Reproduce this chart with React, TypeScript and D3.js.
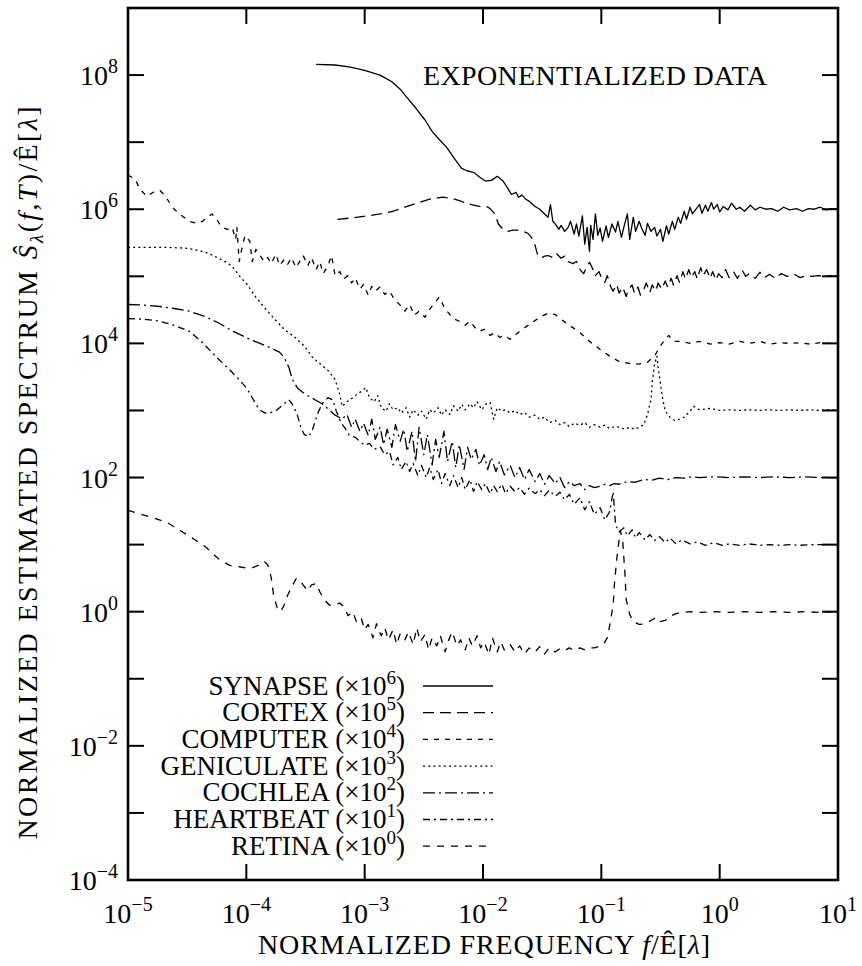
import React from "react";
import * as d3 from "d3";

// Values are stored as decade exponents: [log10 f, log10 S]
const SYNAPSE: [number, number][] = [[-3.41,8.16],[-3.25,8.15],[-3.12,8.12],[-3.00,8.07],[-2.87,8.00],[-2.77,7.90],[-2.70,7.79],[-2.64,7.66],[-2.56,7.49],[-2.49,7.33],[-2.43,7.16],[-2.37,7.04],[-2.31,6.93],[-2.24,6.75],[-2.18,6.61],[-2.13,6.57],[-2.08,6.55],[-2.03,6.48],[-1.98,6.42],[-1.93,6.43],[-1.88,6.49],[-1.83,6.42],[-1.79,6.31],[-1.76,6.22],[-1.72,6.25],[-1.70,6.18],[-1.67,6.21],[-1.64,6.15],[-1.61,6.12],[-1.56,6.04],[-1.52,6.00],[-1.48,5.93],[-1.45,5.88],[-1.43,6.07],[-1.41,5.82],[-1.38,5.76],[-1.36,5.70],[-1.34,5.76],[-1.31,5.67],[-1.28,5.73],[-1.26,5.82],[-1.23,5.63],[-1.21,5.78],[-1.19,5.60],[-1.16,5.90],[-1.14,5.48],[-1.12,5.73],[-1.10,5.37],[-1.09,5.76],[-1.07,5.55],[-1.05,5.93],[-1.03,5.61],[-1.01,5.72],[-0.99,5.52],[-0.96,5.75],[-0.94,5.58],[-0.91,5.78],[-0.88,5.66],[-0.86,5.82],[-0.83,5.58],[-0.81,5.73],[-0.78,5.93],[-0.76,5.55],[-0.73,5.88],[-0.71,5.67],[-0.68,5.82],[-0.66,5.72],[-0.63,5.61],[-0.61,5.79],[-0.58,5.67],[-0.55,5.73],[-0.53,5.60],[-0.50,5.70],[-0.48,5.52],[-0.45,5.75],[-0.43,5.63],[-0.40,5.82],[-0.38,5.70],[-0.35,5.88],[-0.33,5.79],[-0.30,5.97],[-0.28,5.85],[-0.25,6.03],[-0.23,5.93],[-0.20,6.00],[-0.17,6.07],[-0.15,5.94],[-0.12,6.06],[-0.10,5.97],[-0.07,6.10],[-0.05,6.00],[-0.02,6.07],[0.00,5.96],[0.03,6.04],[0.07,5.99],[0.10,6.09],[0.14,6.00],[0.17,6.03],[0.21,5.97],[0.26,6.06],[0.30,5.99],[0.34,6.03],[0.39,6.00],[0.44,6.01],[0.49,5.97],[0.54,6.03],[0.59,5.99],[0.65,6.01],[0.70,5.97],[0.75,6.01],[0.80,6.00],[0.85,6.03],[0.90,5.99],[0.95,6.01],[1.00,6.00]];

const CORTEX: [number, number][] = [[-3.23,5.85],[-3.11,5.87],[-2.98,5.90],[-2.87,5.93],[-2.76,5.97],[-2.66,6.03],[-2.56,6.09],[-2.45,6.15],[-2.34,6.18],[-2.26,6.16],[-2.20,6.13],[-2.14,6.09],[-2.08,6.06],[-2.02,6.04],[-1.97,6.04],[-1.94,6.01],[-1.90,5.93],[-1.87,5.78],[-1.83,5.70],[-1.79,5.67],[-1.75,5.69],[-1.71,5.69],[-1.66,5.67],[-1.62,5.64],[-1.59,5.58],[-1.56,5.46],[-1.54,5.33],[-1.51,5.27],[-1.48,5.30],[-1.45,5.31],[-1.41,5.28],[-1.38,5.34],[-1.34,5.27],[-1.31,5.30],[-1.28,5.22],[-1.24,5.19],[-1.21,5.22],[-1.18,5.10],[-1.15,5.04],[-1.12,5.15],[-1.10,5.21],[-1.07,5.10],[-1.05,5.01],[-1.02,5.07],[-1.00,4.98],[-0.97,4.91],[-0.95,5.01],[-0.92,4.84],[-0.90,4.78],[-0.87,4.88],[-0.85,4.75],[-0.82,4.84],[-0.79,4.70],[-0.77,4.81],[-0.74,4.87],[-0.72,4.75],[-0.69,4.84],[-0.67,4.72],[-0.64,4.81],[-0.62,4.90],[-0.59,4.76],[-0.57,4.87],[-0.54,4.78],[-0.52,4.90],[-0.49,4.81],[-0.46,4.93],[-0.44,4.84],[-0.41,4.97],[-0.39,4.87],[-0.36,5.01],[-0.34,4.91],[-0.31,5.07],[-0.29,4.96],[-0.26,5.10],[-0.24,4.98],[-0.21,5.07],[-0.19,4.96],[-0.16,5.13],[-0.14,5.01],[-0.11,5.10],[-0.08,4.97],[-0.06,5.07],[-0.03,4.94],[-0.01,5.04],[0.02,4.98],[0.05,5.10],[0.08,4.98],[0.12,5.06],[0.15,4.97],[0.19,5.09],[0.22,5.00],[0.25,5.04],[0.30,4.97],[0.34,5.06],[0.38,4.98],[0.42,5.03],[0.47,4.97],[0.52,5.04],[0.57,5.00],[0.63,5.03],[0.68,4.98],[0.73,5.01],[0.78,5.00],[0.83,5.01],[0.88,5.00],[0.93,5.01],[1.00,5.00]];

const COMPUTER: [number, number][] = [[-5.00,6.51],[-4.94,6.45],[-4.90,6.30],[-4.84,6.19],[-4.79,6.25],[-4.73,6.28],[-4.69,6.21],[-4.65,6.10],[-4.61,6.00],[-4.55,5.91],[-4.48,5.82],[-4.42,5.79],[-4.37,5.82],[-4.33,5.88],[-4.29,5.93],[-4.24,5.82],[-4.21,5.73],[-4.16,5.70],[-4.12,5.73],[-4.09,5.55],[-4.08,5.73],[-4.06,5.22],[-4.03,5.48],[-4.01,5.61],[-3.97,5.52],[-3.95,5.22],[-3.92,5.40],[-3.89,5.33],[-3.85,5.22],[-3.82,5.28],[-3.79,5.19],[-3.75,5.33],[-3.72,5.16],[-3.68,5.25],[-3.65,5.18],[-3.62,5.28],[-3.58,5.13],[-3.55,5.22],[-3.52,5.31],[-3.48,5.16],[-3.45,5.28],[-3.41,5.10],[-3.38,5.22],[-3.35,5.04],[-3.31,5.16],[-3.28,5.31],[-3.25,5.01],[-3.21,5.07],[-3.18,4.96],[-3.14,5.01],[-3.11,4.90],[-3.08,4.98],[-3.04,4.81],[-3.01,4.88],[-2.97,4.72],[-2.94,4.85],[-2.91,4.78],[-2.87,4.84],[-2.83,4.73],[-2.79,4.78],[-2.75,4.66],[-2.70,4.57],[-2.66,4.48],[-2.62,4.58],[-2.58,4.42],[-2.54,4.48],[-2.49,4.39],[-2.45,4.51],[-2.41,4.60],[-2.37,4.69],[-2.32,4.51],[-2.28,4.43],[-2.24,4.36],[-2.20,4.33],[-2.15,4.27],[-2.11,4.33],[-2.07,4.24],[-2.03,4.18],[-1.99,4.21],[-1.94,4.12],[-1.90,4.16],[-1.86,4.09],[-1.82,4.12],[-1.77,4.06],[-1.73,4.12],[-1.69,4.18],[-1.61,4.28],[-1.52,4.39],[-1.45,4.45],[-1.39,4.43],[-1.34,4.36],[-1.27,4.27],[-1.18,4.16],[-1.10,4.03],[-1.01,3.91],[-0.93,3.81],[-0.85,3.73],[-0.76,3.70],[-0.68,3.69],[-0.61,3.72],[-0.55,3.81],[-0.51,3.94],[-0.46,4.06],[-0.43,4.12],[-0.39,4.03],[-0.32,4.03],[-0.25,4.00],[-0.17,4.03],[-0.08,3.99],[0.00,4.01],[0.08,3.99],[0.17,4.03],[0.25,4.00],[0.34,4.03],[0.42,3.99],[0.51,4.01],[0.59,4.00],[0.68,4.01],[0.76,3.99],[0.85,4.01],[0.93,4.00],[1.00,4.00]];

const GENICULATE: [number, number][] = [[-5.00,5.43],[-4.82,5.43],[-4.65,5.43],[-4.52,5.42],[-4.44,5.40],[-4.35,5.36],[-4.27,5.30],[-4.18,5.22],[-4.12,5.15],[-4.06,5.01],[-3.99,4.87],[-3.92,4.69],[-3.85,4.54],[-3.76,4.36],[-3.68,4.21],[-3.59,4.09],[-3.51,3.96],[-3.44,3.79],[-3.36,3.67],[-3.30,3.58],[-3.25,3.46],[-3.21,3.24],[-3.19,3.06],[-3.15,3.13],[-3.10,3.19],[-3.06,3.25],[-3.03,3.28],[-2.99,3.34],[-2.96,3.19],[-2.92,3.13],[-2.89,3.22],[-2.86,3.04],[-2.82,2.99],[-2.79,3.10],[-2.76,3.01],[-2.72,3.04],[-2.69,2.96],[-2.65,3.04],[-2.62,2.90],[-2.59,3.01],[-2.55,2.93],[-2.52,2.99],[-2.48,2.87],[-2.45,3.01],[-2.42,2.96],[-2.38,3.04],[-2.35,2.93],[-2.32,3.01],[-2.28,2.94],[-2.25,3.07],[-2.21,2.99],[-2.18,3.09],[-2.15,3.01],[-2.11,3.10],[-2.08,3.04],[-2.05,3.13],[-2.01,3.01],[-1.98,3.09],[-1.94,3.12],[-1.91,2.87],[-1.88,3.04],[-1.84,2.99],[-1.81,3.01],[-1.77,2.96],[-1.73,3.00],[-1.69,2.94],[-1.65,2.97],[-1.61,2.90],[-1.56,2.93],[-1.52,2.87],[-1.48,2.90],[-1.44,2.82],[-1.39,2.85],[-1.35,2.79],[-1.31,2.82],[-1.27,2.76],[-1.23,2.81],[-1.18,2.78],[-1.14,2.82],[-1.10,2.75],[-1.06,2.79],[-1.01,2.75],[-0.97,2.78],[-0.93,2.73],[-0.89,2.76],[-0.85,2.75],[-0.80,2.72],[-0.76,2.75],[-0.72,2.72],[-0.68,2.75],[-0.64,2.79],[-0.61,2.94],[-0.58,3.16],[-0.57,3.42],[-0.55,3.69],[-0.53,3.81],[-0.52,3.64],[-0.50,3.39],[-0.48,3.16],[-0.46,2.99],[-0.42,2.90],[-0.38,2.85],[-0.34,2.87],[-0.30,2.90],[-0.25,2.99],[-0.22,3.06],[-0.17,3.01],[-0.08,3.03],[0.00,3.00],[0.08,3.01],[0.17,3.00],[0.25,3.01],[0.34,3.00],[0.42,3.01],[0.51,3.00],[0.59,3.01],[0.68,3.00],[0.76,3.01],[0.85,3.00],[0.93,3.01],[1.00,3.00]];

const COCHLEA: [number, number][] = [[-5.00,4.58],[-4.86,4.57],[-4.73,4.55],[-4.61,4.52],[-4.48,4.48],[-4.35,4.40],[-4.23,4.30],[-4.11,4.18],[-3.97,4.06],[-3.87,3.99],[-3.79,3.93],[-3.72,3.87],[-3.68,3.79],[-3.64,3.64],[-3.61,3.46],[-3.57,3.34],[-3.53,3.28],[-3.48,3.22],[-3.42,3.16],[-3.36,3.10],[-3.30,3.01],[-3.25,2.93],[-3.19,2.87],[-3.15,2.94],[-3.11,2.75],[-3.08,2.87],[-3.04,2.69],[-3.01,2.81],[-2.97,2.63],[-2.94,2.87],[-2.91,2.57],[-2.87,2.75],[-2.84,2.49],[-2.81,2.72],[-2.77,2.45],[-2.74,2.79],[-2.70,2.54],[-2.67,2.72],[-2.64,2.39],[-2.60,2.69],[-2.57,2.24],[-2.54,2.75],[-2.50,2.34],[-2.47,2.64],[-2.43,2.19],[-2.40,2.57],[-2.37,2.30],[-2.33,2.69],[-2.30,2.24],[-2.26,2.54],[-2.23,2.15],[-2.20,2.49],[-2.16,2.12],[-2.13,2.45],[-2.10,2.27],[-2.06,2.42],[-2.03,2.18],[-1.99,2.34],[-1.96,2.12],[-1.93,2.30],[-1.89,2.09],[-1.86,2.24],[-1.82,2.04],[-1.77,2.18],[-1.73,2.00],[-1.69,2.15],[-1.65,1.97],[-1.61,2.12],[-1.56,1.94],[-1.52,2.06],[-1.48,1.90],[-1.44,2.03],[-1.39,1.91],[-1.35,2.00],[-1.31,1.85],[-1.27,1.94],[-1.23,1.88],[-1.18,1.91],[-1.14,1.82],[-1.10,1.88],[-1.06,1.85],[-1.01,1.87],[-0.97,1.90],[-0.93,1.88],[-0.89,1.91],[-0.85,1.90],[-0.78,1.94],[-0.71,1.93],[-0.64,1.97],[-0.57,1.96],[-0.51,1.99],[-0.44,1.97],[-0.37,2.00],[-0.30,1.99],[-0.24,2.01],[-0.17,2.00],[-0.04,2.01],[0.08,2.00],[0.21,2.01],[0.34,2.00],[0.46,2.01],[0.59,2.00],[0.72,2.01],[0.85,2.00],[1.00,2.00]];

const HEARTBEAT: [number, number][] = [[-5.00,4.37],[-4.86,4.36],[-4.73,4.33],[-4.61,4.27],[-4.48,4.18],[-4.37,4.01],[-4.25,3.79],[-4.12,3.57],[-4.00,3.34],[-3.94,3.16],[-3.89,3.01],[-3.84,2.96],[-3.79,2.97],[-3.74,3.01],[-3.68,3.10],[-3.64,3.16],[-3.61,3.09],[-3.57,2.94],[-3.54,2.75],[-3.51,2.64],[-3.47,2.61],[-3.44,2.72],[-3.40,2.94],[-3.36,3.10],[-3.31,3.19],[-3.27,3.16],[-3.24,2.99],[-3.20,2.82],[-3.16,2.72],[-3.13,2.63],[-3.08,2.60],[-3.04,2.54],[-3.00,2.48],[-2.96,2.51],[-2.92,2.42],[-2.87,2.46],[-2.83,2.34],[-2.79,2.39],[-2.76,2.19],[-2.72,2.30],[-2.69,2.12],[-2.65,2.24],[-2.62,2.09],[-2.59,2.21],[-2.55,2.03],[-2.52,2.18],[-2.48,2.00],[-2.45,2.15],[-2.42,1.97],[-2.38,2.12],[-2.35,1.91],[-2.32,2.06],[-2.28,1.88],[-2.25,2.03],[-2.21,1.85],[-2.18,2.00],[-2.15,1.82],[-2.11,1.97],[-2.08,1.79],[-2.05,1.94],[-2.01,1.82],[-1.98,1.91],[-1.94,1.76],[-1.91,1.88],[-1.88,1.79],[-1.84,1.90],[-1.81,1.76],[-1.77,1.87],[-1.73,1.79],[-1.69,1.85],[-1.65,1.75],[-1.61,1.84],[-1.56,1.76],[-1.52,1.82],[-1.48,1.73],[-1.44,1.81],[-1.39,1.72],[-1.35,1.78],[-1.31,1.67],[-1.27,1.75],[-1.23,1.60],[-1.18,1.70],[-1.14,1.52],[-1.10,1.64],[-1.06,1.45],[-1.01,1.55],[-0.97,1.37],[-0.93,1.49],[-0.90,1.79],[-0.88,1.30],[-0.85,1.19],[-0.81,1.25],[-0.78,1.13],[-0.74,1.22],[-0.71,1.10],[-0.68,1.18],[-0.63,1.07],[-0.59,1.15],[-0.55,1.06],[-0.51,1.12],[-0.46,1.03],[-0.42,1.10],[-0.37,1.01],[-0.32,1.07],[-0.25,1.01],[-0.19,1.04],[-0.12,0.99],[-0.05,1.03],[0.02,0.99],[0.08,1.01],[0.17,0.99],[0.25,1.01],[0.34,0.99],[0.42,1.00],[0.51,0.99],[0.59,1.00],[0.68,0.99],[0.80,1.00],[1.00,1.00]];

const RETINA: [number, number][] = [[-5.00,1.51],[-4.90,1.46],[-4.79,1.40],[-4.67,1.33],[-4.56,1.21],[-4.45,1.09],[-4.34,0.96],[-4.23,0.78],[-4.14,0.69],[-4.06,0.67],[-3.97,0.64],[-3.90,0.69],[-3.85,0.75],[-3.82,0.70],[-3.79,0.51],[-3.77,0.25],[-3.74,0.06],[-3.71,0.00],[-3.68,0.10],[-3.65,0.25],[-3.62,0.36],[-3.58,0.49],[-3.55,0.48],[-3.52,0.40],[-3.48,0.31],[-3.45,0.40],[-3.41,0.42],[-3.38,0.30],[-3.34,0.18],[-3.30,0.10],[-3.25,0.09],[-3.21,0.13],[-3.17,0.06],[-3.14,-0.06],[-3.10,0.00],[-3.07,-0.15],[-3.03,-0.09],[-3.00,-0.27],[-2.97,-0.19],[-2.93,-0.39],[-2.90,-0.18],[-2.86,-0.36],[-2.83,-0.24],[-2.80,-0.42],[-2.76,-0.27],[-2.73,-0.49],[-2.70,-0.33],[-2.66,-0.42],[-2.63,-0.30],[-2.59,-0.49],[-2.56,-0.24],[-2.53,-0.45],[-2.49,-0.34],[-2.46,-0.57],[-2.43,-0.39],[-2.39,-0.51],[-2.36,-0.36],[-2.32,-0.60],[-2.29,-0.42],[-2.26,-0.30],[-2.22,-0.51],[-2.19,-0.42],[-2.15,-0.57],[-2.12,-0.39],[-2.09,-0.51],[-2.05,-0.36],[-2.02,-0.54],[-1.99,-0.45],[-1.95,-0.64],[-1.92,-0.39],[-1.88,-0.60],[-1.85,-0.45],[-1.82,-0.57],[-1.77,-0.49],[-1.73,-0.60],[-1.69,-0.51],[-1.65,-0.63],[-1.61,-0.54],[-1.56,-0.60],[-1.52,-0.52],[-1.48,-0.63],[-1.44,-0.54],[-1.39,-0.60],[-1.35,-0.55],[-1.31,-0.58],[-1.27,-0.54],[-1.23,-0.58],[-1.18,-0.54],[-1.14,-0.57],[-1.10,-0.54],[-1.06,-0.54],[-1.01,-0.51],[-0.98,-0.48],[-0.95,-0.39],[-0.93,-0.21],[-0.90,0.10],[-0.89,0.40],[-0.87,0.78],[-0.85,1.07],[-0.84,1.21],[-0.82,1.07],[-0.80,0.55],[-0.79,0.18],[-0.76,-0.04],[-0.73,-0.15],[-0.68,-0.19],[-0.63,-0.18],[-0.57,-0.12],[-0.54,-0.09],[-0.51,-0.15],[-0.46,-0.13],[-0.42,-0.07],[-0.37,-0.03],[-0.30,-0.01],[-0.24,0.00],[-0.17,-0.01],[-0.04,0.00],[0.08,-0.01],[0.21,0.00],[0.34,-0.01],[0.46,0.00],[0.59,-0.01],[0.72,0.00],[0.85,-0.01],[1.00,0.00]];

const SERIES_NAMES = ["SYNAPSE", "CORTEX", "COMPUTER", "GENICULATE", "COCHLEA", "HEARTBEAT", "RETINA"];
const SERIES_SCALE_EXP = [6, 5, 4, 3, 2, 1, 0];
const SERIES_DATA = [SYNAPSE, CORTEX, COMPUTER, GENICULATE, COCHLEA, HEARTBEAT, RETINA];
const SERIES_DASH = ["", "11,6", "5,6", "2,3.2", "12,4,2,4", "7,4,2,4", "7,7"];

const X_TICK_EXPS = [-5, -4, -3, -2, -1, 0, 1];
const Y_TICK_EXPS = [-4, -3, -2, -1, 0, 1, 2, 3, 4, 5, 6, 7, 8, 9];
const Y_LABEL_EXPS = [-4, -2, 0, 2, 4, 6, 8];

const W = 862, H = 966;
const L = 128, R = 838, T = 8, B = 880;
const FONT = "'Liberation Serif', 'Times New Roman', 'DejaVu Serif', serif";

export default function App() {
  const x = d3.scaleLog().domain([1e-5, 1e1]).range([L, R]);
  const y = d3.scaleLog().domain([1e-4, 1e9]).range([B, T]);
  const line = d3.line<[number, number]>()
    .x((d) => x(Math.pow(10, d[0])))
    .y((d) => y(Math.pow(10, d[1])));
  const fmt = (e: number) => (e < 0 ? "\u2212" + Math.abs(e) : String(e));
  const TL = 16;
  const legendY0 = 686, legendDY = 26.7;

  return (
    <svg width={W} height={H} style={{ display: "block", position: "absolute", left: 0, top: 0, background: "#fff" }} fontFamily={FONT}>
      <rect x={0} y={0} width={W} height={H} fill="#fff" />
      <defs>
        <clipPath id="plotclip">
          <rect x={L} y={T} width={R - L} height={B - T} />
        </clipPath>
      </defs>
      <g clipPath="url(#plotclip)">
        {SERIES_DATA.map((data, i) => (
          <path key={SERIES_NAMES[i]} d={line(data) || ""} fill="none" stroke="#000" strokeWidth={1.3}
            strokeDasharray={SERIES_DASH[i] || undefined} strokeLinejoin="round" />
        ))}
      </g>
      {Y_TICK_EXPS.map((e) => (
        <g key={"yt" + e} stroke="#000" strokeWidth={2}>
          <line x1={L} x2={L + TL} y1={y(Math.pow(10, e))} y2={y(Math.pow(10, e))} />
          <line x1={R} x2={R - TL} y1={y(Math.pow(10, e))} y2={y(Math.pow(10, e))} />
        </g>
      ))}
      {X_TICK_EXPS.map((e) => (
        <g key={"xt" + e} stroke="#000" strokeWidth={2}>
          <line x1={x(Math.pow(10, e))} x2={x(Math.pow(10, e))} y1={B} y2={B - TL} />
          <line x1={x(Math.pow(10, e))} x2={x(Math.pow(10, e))} y1={T} y2={T + TL} />
        </g>
      ))}
      <rect x={L} y={T} width={R - L} height={B - T} fill="none" stroke="#000" strokeWidth={2.6} />
      {Y_LABEL_EXPS.map((e) => (
        <text key={"yl" + e} x={118} y={y(Math.pow(10, e)) + 10} textAnchor="end" fontSize={28}>
          10<tspan dy={-12} fontSize={20}>{fmt(e)}</tspan>
        </text>
      ))}
      {X_TICK_EXPS.map((e) => (
        <text key={"xl" + e} x={x(Math.pow(10, e))} y={923} textAnchor="middle" fontSize={28}>
          10<tspan dy={-12} fontSize={20}>{fmt(e)}</tspan>
        </text>
      ))}
      <text x={484} y={954} textAnchor="middle" fontSize={28} textLength={452} lengthAdjust="spacing">
        NORMALIZED FREQUENCY <tspan fontStyle="italic">f</tspan>/Ê[<tspan fontStyle="italic">λ</tspan>]
      </text>
      <text transform="translate(37,473) rotate(-90)" textAnchor="middle" fontSize={28} textLength={733} lengthAdjust="spacing">
        NORMALIZED ESTIMATED SPECTRUM <tspan fontStyle="italic">Ŝ</tspan><tspan fontStyle="italic" fontSize={19} dy={6}>λ</tspan><tspan dy={-6}>(</tspan><tspan fontStyle="italic">f</tspan>,<tspan fontStyle="italic">T</tspan>)/Ê[<tspan fontStyle="italic">λ</tspan>]
      </text>
      <text x={423} y={85} fontSize={28} textLength={344} lengthAdjust="spacing">EXPONENTIALIZED DATA</text>
      {SERIES_NAMES.map((name, i) => {
        const ly = legendY0 + i * legendDY;
        return (
          <g key={"lg" + name}>
            <text x={405} y={ly + 8.5} textAnchor="end" fontSize={27}>
              {name} (×10<tspan dy={-11} fontSize={19}>{SERIES_SCALE_EXP[i]}</tspan><tspan dy={11}>)</tspan>
            </text>
            <line x1={423} x2={493} y1={ly} y2={ly} stroke="#000" strokeWidth={1.3}
              strokeDasharray={SERIES_DASH[i] || undefined} />
          </g>
        );
      })}
    </svg>
  );
}
